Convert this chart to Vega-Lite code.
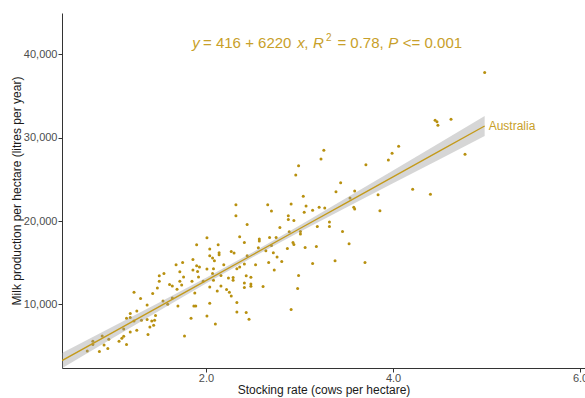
{
  "$schema": "https://vega.github.io/schema/vega-lite/v6.json",
  "width": 523,
  "height": 355,
  "autosize": {"type": "none"},
  "padding": {"left": 62, "top": 13, "right": 0, "bottom": 30},
  "background": "white",
  "config": {
    "view": {"stroke": null},
    "font": "Liberation Sans",
    "axis": {
      "grid": false,
      "domainColor": "#333333",
      "tickColor": "#333333",
      "labelColor": "#4d4d4d",
      "labelFontSize": 11,
      "titleFontSize": 12,
      "titleFontWeight": "normal",
      "titleColor": "#1a1a1a",
      "tickSize": 4,
      "labelPadding": 1,
      "domainWidth": 1
    }
  },
  "datasets": {
    "farms": [
      {"rate": 1.23, "milk": 11480}, {"rate": 1.30, "milk": 10720}, {"rate": 1.43, "milk": 11320},
      {"rate": 1.50, "milk": 13430}, {"rate": 1.50, "milk": 12800}, {"rate": 1.48, "milk": 11990},
      {"rate": 1.37, "milk": 9950}, {"rate": 1.26, "milk": 9230}, {"rate": 1.19, "milk": 8920},
      {"rate": 1.19, "milk": 8440}, {"rate": 1.15, "milk": 8360}, {"rate": 1.23, "milk": 8030},
      {"rate": 1.31, "milk": 8120}, {"rate": 1.37, "milk": 8200}, {"rate": 1.42, "milk": 8030},
      {"rate": 1.46, "milk": 8680}, {"rate": 1.45, "milk": 8120}, {"rate": 1.44, "milk": 7520},
      {"rate": 1.40, "milk": 7310}, {"rate": 1.38, "milk": 6400}, {"rate": 1.26, "milk": 6920},
      {"rate": 1.19, "milk": 6710}, {"rate": 1.12, "milk": 7070}, {"rate": 1.12, "milk": 6190},
      {"rate": 1.10, "milk": 5950}, {"rate": 1.07, "milk": 5590}, {"rate": 1.15, "milk": 5200},
      {"rate": 0.96, "milk": 5830}, {"rate": 0.89, "milk": 6230}, {"rate": 0.91, "milk": 5150},
      {"rate": 0.95, "milk": 4720}, {"rate": 0.86, "milk": 4360}, {"rate": 0.79, "milk": 5590},
      {"rate": 0.79, "milk": 5200}, {"rate": 0.73, "milk": 4430},
      {"rate": 2.32, "milk": 21960}, {"rate": 2.32, "milk": 20640}, {"rate": 2.01, "milk": 18000},
      {"rate": 1.90, "milk": 17160}, {"rate": 2.13, "milk": 17160}, {"rate": 2.04, "milk": 16640},
      {"rate": 2.14, "milk": 16190}, {"rate": 2.14, "milk": 15960}, {"rate": 2.27, "milk": 16360},
      {"rate": 2.30, "milk": 16160}, {"rate": 2.04, "milk": 15830}, {"rate": 2.07, "milk": 15560},
      {"rate": 2.09, "milk": 15230}, {"rate": 1.86, "milk": 15400}, {"rate": 1.75, "milk": 15040},
      {"rate": 1.68, "milk": 14750}, {"rate": 1.90, "milk": 14630}, {"rate": 1.93, "milk": 14480},
      {"rate": 1.86, "milk": 14120}, {"rate": 2.01, "milk": 14240}, {"rate": 2.08, "milk": 14270},
      {"rate": 2.19, "milk": 14750}, {"rate": 2.33, "milk": 14270}, {"rate": 1.55, "milk": 13720},
      {"rate": 1.72, "milk": 13910}, {"rate": 1.91, "milk": 13960}, {"rate": 1.76, "milk": 13310},
      {"rate": 1.92, "milk": 13310}, {"rate": 2.07, "milk": 13720}, {"rate": 2.16, "milk": 13480},
      {"rate": 2.24, "milk": 13190}, {"rate": 2.29, "milk": 13240}, {"rate": 2.29, "milk": 12920},
      {"rate": 1.72, "milk": 12800}, {"rate": 1.85, "milk": 12800}, {"rate": 1.97, "milk": 12800},
      {"rate": 2.08, "milk": 12920}, {"rate": 1.61, "milk": 12400}, {"rate": 1.64, "milk": 12230},
      {"rate": 1.74, "milk": 12350}, {"rate": 2.04, "milk": 12110}, {"rate": 2.16, "milk": 12230},
      {"rate": 2.22, "milk": 11800}, {"rate": 1.69, "milk": 11840}, {"rate": 1.88, "milk": 11390},
      {"rate": 2.12, "milk": 11630}, {"rate": 2.25, "milk": 11480}, {"rate": 2.27, "milk": 11030},
      {"rate": 1.64, "milk": 10790}, {"rate": 1.54, "milk": 10430}, {"rate": 1.59, "milk": 10040},
      {"rate": 1.70, "milk": 9830}, {"rate": 1.87, "milk": 9830}, {"rate": 1.89, "milk": 9830},
      {"rate": 2.04, "milk": 10160}, {"rate": 2.33, "milk": 10240}, {"rate": 2.33, "milk": 9110},
      {"rate": 2.01, "milk": 8630}, {"rate": 1.84, "milk": 8360}, {"rate": 2.10, "milk": 7670},
      {"rate": 1.77, "milk": 6230},
      {"rate": 2.99, "milk": 26640}, {"rate": 2.96, "milk": 25520}, {"rate": 3.04, "milk": 22970},
      {"rate": 3.07, "milk": 21800}, {"rate": 3.14, "milk": 21290}, {"rate": 2.91, "milk": 22040},
      {"rate": 2.66, "milk": 21960}, {"rate": 2.70, "milk": 21200}, {"rate": 3.05, "milk": 21050},
      {"rate": 3.21, "milk": 21650}, {"rate": 2.88, "milk": 20640}, {"rate": 2.88, "milk": 20200},
      {"rate": 2.94, "milk": 20080}, {"rate": 2.44, "milk": 19600}, {"rate": 2.79, "milk": 19240},
      {"rate": 2.89, "milk": 18720}, {"rate": 3.01, "milk": 18760}, {"rate": 3.01, "milk": 18440},
      {"rate": 3.19, "milk": 19360}, {"rate": 2.36, "milk": 18120}, {"rate": 2.57, "milk": 17840},
      {"rate": 2.57, "milk": 17600}, {"rate": 2.68, "milk": 18040}, {"rate": 2.75, "milk": 18040},
      {"rate": 2.41, "milk": 17440}, {"rate": 2.93, "milk": 17440}, {"rate": 2.94, "milk": 17200},
      {"rate": 2.70, "milk": 17080}, {"rate": 2.56, "milk": 16800}, {"rate": 2.87, "milk": 16720},
      {"rate": 3.06, "milk": 16840}, {"rate": 3.18, "milk": 16960}, {"rate": 2.64, "milk": 16440},
      {"rate": 2.72, "milk": 16190}, {"rate": 2.44, "milk": 15830}, {"rate": 2.76, "milk": 15680},
      {"rate": 2.41, "milk": 14840}, {"rate": 2.53, "milk": 14750}, {"rate": 2.67, "milk": 15040},
      {"rate": 2.81, "milk": 15160}, {"rate": 2.73, "milk": 14120}, {"rate": 3.14, "milk": 14920},
      {"rate": 2.43, "milk": 13430}, {"rate": 2.48, "milk": 13280}, {"rate": 2.41, "milk": 12590},
      {"rate": 2.48, "milk": 12470}, {"rate": 2.48, "milk": 12200}, {"rate": 2.41, "milk": 12040},
      {"rate": 2.61, "milk": 12160}, {"rate": 2.99, "milk": 13480}, {"rate": 2.98, "milk": 11920},
      {"rate": 2.91, "milk": 9400}, {"rate": 2.43, "milk": 9040}, {"rate": 2.46, "milk": 8240},
      {"rate": 2.36, "milk": 14480},
      {"rate": 4.06, "milk": 28970}, {"rate": 3.99, "milk": 28130}, {"rate": 3.95, "milk": 27320},
      {"rate": 3.26, "milk": 28490}, {"rate": 3.23, "milk": 27440}, {"rate": 3.71, "milk": 26760},
      {"rate": 3.44, "milk": 24600}, {"rate": 3.39, "milk": 23520}, {"rate": 3.59, "milk": 23600},
      {"rate": 4.21, "milk": 23810}, {"rate": 3.84, "milk": 23160}, {"rate": 3.54, "milk": 22760},
      {"rate": 3.27, "milk": 21560}, {"rate": 3.58, "milk": 21650}, {"rate": 3.59, "milk": 21440},
      {"rate": 3.86, "milk": 21240}, {"rate": 3.32, "milk": 19880}, {"rate": 3.32, "milk": 19360},
      {"rate": 3.46, "milk": 18760}, {"rate": 3.53, "milk": 17280}, {"rate": 3.38, "milk": 15230},
      {"rate": 3.70, "milk": 15040},
      {"rate": 4.98, "milk": 37800}, {"rate": 4.45, "milk": 32090}, {"rate": 4.47, "milk": 31890},
      {"rate": 4.48, "milk": 31490}, {"rate": 4.62, "milk": 32210}, {"rate": 4.77, "milk": 28010},
      {"rate": 4.40, "milk": 23210}
    ],
    "fit": [
      {"rate": 0.46, "fit": 3277, "lo": 2359, "hi": 4195},
      {"rate": 1.0, "fit": 6636, "lo": 5942, "hi": 7330},
      {"rate": 1.5, "fit": 9746, "lo": 9244, "hi": 10248},
      {"rate": 2.0, "fit": 12856, "lo": 12507, "hi": 13205},
      {"rate": 2.5, "fit": 15966, "lo": 15663, "hi": 16269},
      {"rate": 3.0, "fit": 19076, "lo": 18674, "hi": 19478},
      {"rate": 3.5, "fit": 22186, "lo": 21610, "hi": 22762},
      {"rate": 4.0, "fit": 25296, "lo": 24520, "hi": 26072},
      {"rate": 4.5, "fit": 28406, "lo": 27420, "hi": 29392},
      {"rate": 4.98, "fit": 31392, "lo": 30202, "hi": 32582}
    ],
    "eq_italic": [
      {"rate": 1.853, "milk": 40730, "label": "y"},
      {"rate": 2.975, "milk": 40730, "label": "x"},
      {"rate": 3.145, "milk": 40730, "label": "R"},
      {"rate": 3.950, "milk": 40730, "label": "P"}
    ],
    "eq_plain": [
      {"rate": 1.968, "milk": 40730, "label": "= 416 + 6220"},
      {"rate": 3.050, "milk": 40730, "label": ","},
      {"rate": 3.405, "milk": 40730, "label": "= 0.78,"},
      {"rate": 4.105, "milk": 40730, "label": "<= 0.001"}
    ],
    "eq_sup": [
      {"rate": 3.284, "milk": 41530, "label": "2"}
    ],
    "country": [
      {"rate": 4.98, "milk": 31392, "label": "Australia"}
    ]
  },
  "encoding": {
    "x": {
      "field": "rate",
      "type": "quantitative",
      "scale": {"domain": [0.46, 6.053], "nice": false, "zero": false},
      "axis": {
        "title": "Stocking rate (cows per hectare)",
        "values": [2, 4, 6],
        "format": ".1f",
        "labelFlush": false,
        "labelPadding": 0,
        "titleBaseline": "top",
        "titleY": 16
      }
    },
    "y": {
      "field": "milk",
      "type": "quantitative",
      "scale": {"domain": [2389, 44935], "nice": false, "zero": false},
      "axis": {
        "title": "Milk production per hectare (litres per year)",
        "values": [10000, 20000, 30000, 40000],
        "format": ",.0f",
        "titleX": -46,
        "titleBaseline": "middle"
      }
    }
  },
  "layer": [
    {
      "data": {"name": "farms"},
      "mark": {"type": "circle", "size": 9, "color": "#B8900F", "opacity": 1}
    },
    {
      "data": {"name": "fit"},
      "mark": {"type": "area", "color": "#999999", "opacity": 0.4, "clip": true},
      "encoding": {
        "y": {"field": "lo", "type": "quantitative"},
        "y2": {"field": "hi"}
      }
    },
    {
      "data": {"name": "fit"},
      "mark": {"type": "line", "color": "#C49A1A", "strokeWidth": 1.3, "clip": true},
      "encoding": {
        "y": {"field": "fit", "type": "quantitative"}
      }
    },
    {
      "data": {"name": "eq_italic"},
      "mark": {"type": "text", "align": "left", "baseline": "alphabetic", "fontSize": 15, "fontStyle": "italic", "color": "#C8A02A"},
      "encoding": {"text": {"field": "label"}}
    },
    {
      "data": {"name": "eq_plain"},
      "mark": {"type": "text", "align": "left", "baseline": "alphabetic", "fontSize": 15, "color": "#C8A02A"},
      "encoding": {"text": {"field": "label"}}
    },
    {
      "data": {"name": "eq_sup"},
      "mark": {"type": "text", "align": "left", "baseline": "alphabetic", "fontSize": 10, "color": "#C8A02A"},
      "encoding": {"text": {"field": "label"}}
    },
    {
      "data": {"name": "country"},
      "mark": {"type": "text", "align": "left", "baseline": "middle", "dx": 4, "fontSize": 12, "color": "#C8A02A"},
      "encoding": {"text": {"field": "label"}}
    }
  ]
}
